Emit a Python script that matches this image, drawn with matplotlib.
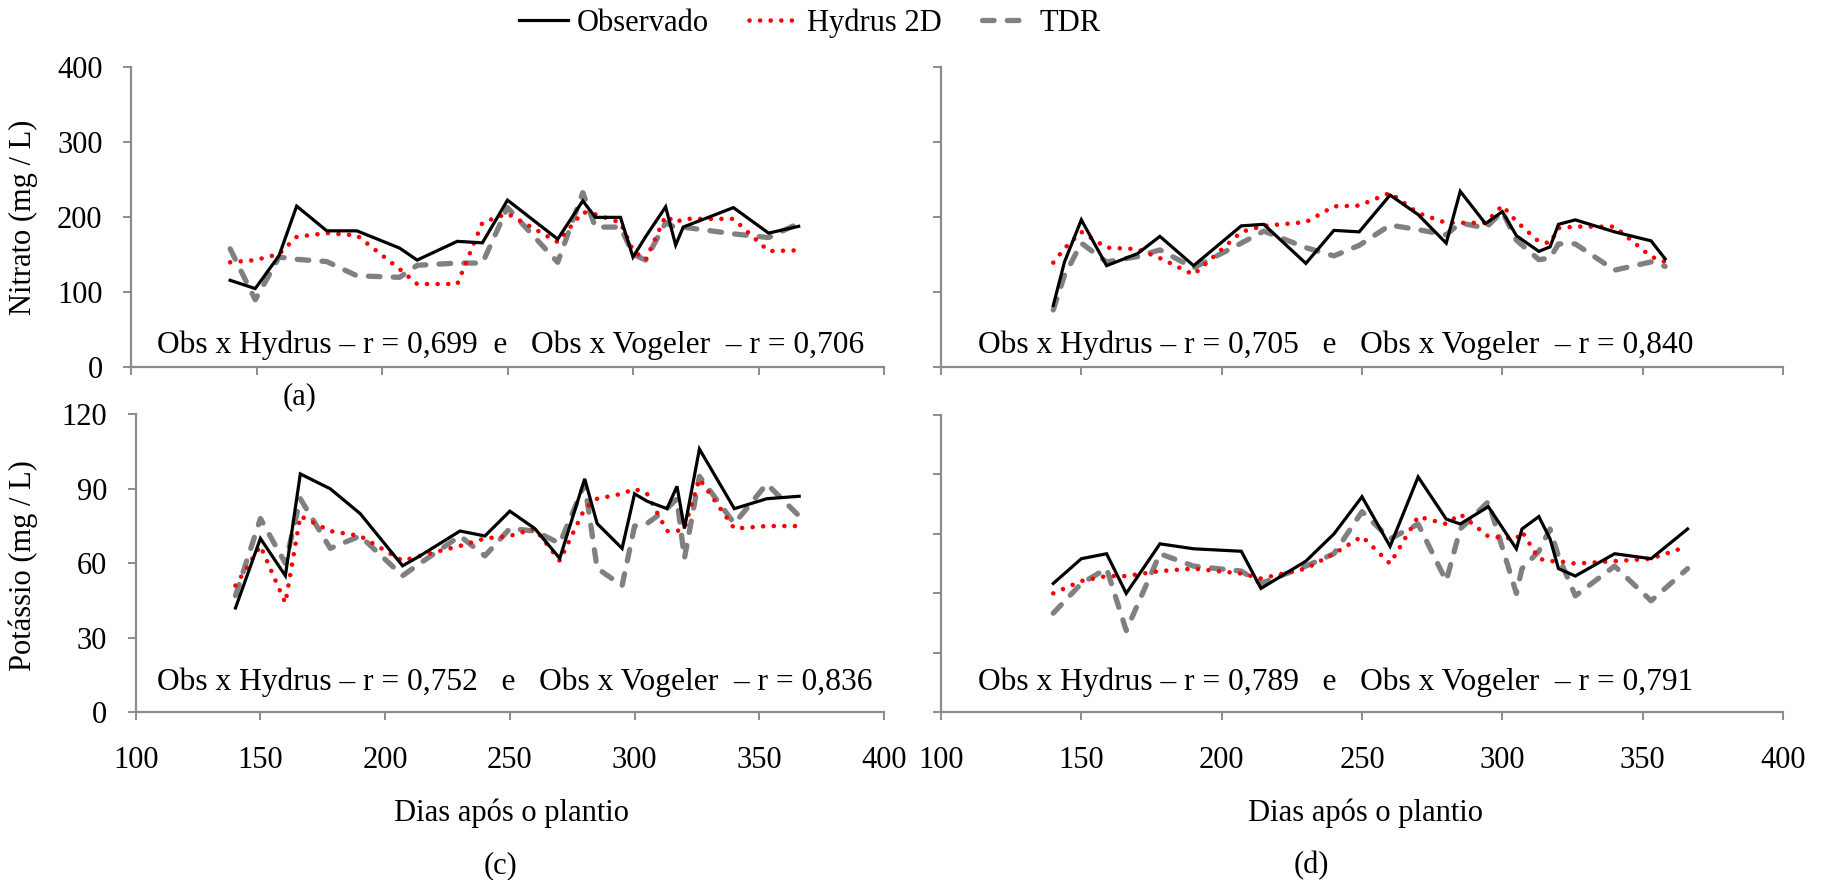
import matplotlib
matplotlib.use("Agg")
import matplotlib.pyplot as plt
from matplotlib.lines import Line2D

plt.rcParams['font.family'] = ['Liberation Serif', 'DejaVu Serif']

# ---------------- data ----------------
# Panel (a) - Nitrato, left
days_a = [139.5, 149.5, 159, 166, 178, 190, 207, 214, 230, 240, 250, 270, 280, 285,
          295, 300, 305, 313, 317, 320, 340, 354, 366]
obs_a = [115, 104, 148, 214, 181, 181, 158, 142, 167, 165, 222, 170, 221, 199,
         199, 146, 173, 213, 162, 186, 212, 178, 187]
hyd_a = [139, 142, 150, 173, 178, 175, 130, 110, 110, 192, 204, 166, 206, 203,
         192, 155, 142, 201, 192, 197, 197, 154, 155]
tdr_a = [157, 89, 146, 143, 140, 121, 119, 135, 138, 138, 212, 139, 232, 186,
         186, 150, 142, 192, 185, 186, 177, 172, 191]

# Panel (b) - Nitrato, right
days_b = [140, 144, 150, 159, 170, 178, 190, 207, 215, 230, 240, 249, 260, 270, 280,
          285, 294, 300, 305, 313, 317, 320, 326, 340, 353, 358]
obs_b = [82, 140, 196, 135, 151, 174, 135, 188, 190, 138, 182, 180, 229, 203, 165,
         234, 191, 207, 175, 154, 160, 190, 196, 180, 168, 144]
hyd_b = [139, 158, 180, 159, 157, 145, 123, 180, 188, 193, 214, 215, 232, 205, 192,
         192, 192, 215, 194, 167, 165, 185, 187, 187, 147, 140]
tdr_b = [76, 122, 165, 140, 147, 156, 132, 165, 181, 159, 148, 162, 189, 183, 176,
         192, 185, 207, 169, 143, 145, 164, 164, 129, 140, 134]

# Panel (c) - Potássio, left
days_c = [140, 150, 160, 166, 178, 190, 207, 214, 230, 240, 250, 260, 270, 280, 285,
          295, 300, 305, 313, 317, 320, 326, 340, 353, 366]
obs_c = [42, 70, 55, 96, 90, 80, 59, 63, 73, 71, 81, 74, 62, 94, 76,
         66, 88, 85, 82, 91, 74, 106, 82, 86, 87]
hyd_c = [51, 67, 44, 79, 73, 71, 61, 63, 67, 70, 71, 74, 61, 82, 86,
         88, 90, 88, 73, 73, 74, 94, 74, 75, 75]
tdr_c = [47, 78, 60, 86, 66, 71, 55, 60, 71, 63, 74, 73, 68, 92, 58,
         51, 75, 76, 82, 86, 62, 95, 76, 92, 79]

# Panel (d) - Potássio, right
days_d = [140, 150, 159, 166, 178, 190, 207, 214, 230, 240, 250, 260, 270, 280, 285,
          295, 305, 307, 313, 317, 320, 326, 340, 353, 366]
obs_d = [52, 62, 64, 48, 68, 66, 65, 50, 61, 72, 87, 67, 95, 78, 76,
         83, 66, 74, 79, 70, 58, 55, 64, 62, 74]
hyd_d = [48, 53, 55, 55, 57, 58, 56, 54, 58, 64, 71, 60, 79, 76, 80,
         71, 70, 73, 62, 61, 61, 60, 61, 62, 67]
tdr_d = [40, 52, 58, 33, 64, 59, 57, 52, 59, 64, 81, 70, 76, 53, 74,
         85, 48, 58, 65, 74, 63, 47, 59, 45, 58]

series_labels = ["Observado", "Hydrus 2D", "TDR"]
x_ticks = [100, 150, 200, 250, 300, 350, 400]
y_ticks_nit = [0, 100, 200, 300, 400]
y_ticks_pot = [0, 30, 60, 90, 120]
y_ticks_pot_d = [0, 24, 48, 72, 96, 120]

ann_a = "Obs x Hydrus \u2013 r = 0,699  e   Obs x Vogeler  \u2013 r = 0,706"
ann_b = "Obs x Hydrus \u2013 r = 0,705   e   Obs x Vogeler  \u2013 r = 0,840"
ann_c = "Obs x Hydrus \u2013 r = 0,752   e   Obs x Vogeler  \u2013 r = 0,836"
ann_d = "Obs x Hydrus \u2013 r = 0,789   e   Obs x Vogeler  \u2013 r = 0,791"

# ---------------- figure ----------------
W, H = 1822, 880
fig = plt.figure(figsize=(W / 100, H / 100), dpi=100)


def rect(l, r, t, b):
    return [l / W, 1 - b / H, (r - l) / W, (b - t) / H]


FS = 22
FS_ANN = 22.7
SPINE = '#8c8c8c'

style_obs = dict(color='black', lw=2.3, solid_joinstyle='miter')
style_hyd = dict(color='#ff0000', lw=3.3, linestyle=(0, (0.01, 2.3)),
                 dash_capstyle='round')
style_tdr = dict(color='#808080', lw=3.8, linestyle=(0, (2.2, 2.5)),
                 dash_capstyle='round')


def make_ax(r, days, obs, hyd, tdr, ylim, yticks, show_x, show_y):
    ax = fig.add_axes(r)
    ax.plot(days, tdr, **style_tdr)
    ax.plot(days, hyd, **style_hyd)
    ax.plot(days, obs, **style_obs)
    ax.set_xlim(100, 400)
    ax.set_ylim(*ylim)
    ax.set_xticks(x_ticks)
    ax.set_yticks(yticks)
    for s in ['top', 'right']:
        ax.spines[s].set_visible(False)
    for s in ['left', 'bottom']:
        ax.spines[s].set_color(SPINE)
        ax.spines[s].set_linewidth(1.6)
    ax.tick_params(axis='both', direction='out', length=6, width=1.4,
                   color=SPINE, labelsize=FS)
    ax.tick_params(axis='x', pad=18)
    ax.tick_params(axis='y', pad=14.5)
    if not show_x:
        ax.set_xticklabels([])
    if not show_y:
        ax.set_yticklabels([])
    return ax


ax_a = make_ax(rect(131, 884, 66.7, 366.5), days_a, obs_a, hyd_a, tdr_a,
               (0, 400), y_ticks_nit, False, True)
ax_b = make_ax(rect(941, 1783, 66.7, 367), days_b, obs_b, hyd_b, tdr_b,
               (0, 400), y_ticks_nit, False, False)
ax_c = make_ax(rect(135.7, 884, 414.3, 712.3), days_c, obs_c, hyd_c, tdr_c,
               (0, 120), y_ticks_pot, True, True)
ax_d = make_ax(rect(941, 1783, 415, 712.3), days_d, obs_d, hyd_d, tdr_d,
               (0, 120), y_ticks_pot_d, True, False)

# annotations
fig.text(157 / W, 1 - 352.7 / H, ann_a, fontsize=FS_ANN, va='baseline', ha='left')
fig.text(978 / W, 1 - 352.7 / H, ann_b, fontsize=FS_ANN, va='baseline', ha='left')
fig.text(157 / W, 1 - 690 / H, ann_c, fontsize=FS_ANN, va='baseline', ha='left')
fig.text(978 / W, 1 - 690 / H, ann_d, fontsize=FS_ANN, va='baseline', ha='left')

# panel labels
fig.text(300 / W, 1 - 397 / H, "(a)", fontsize=FS, ha='center', va='center')
fig.text(500 / W, 1 - 866 / H, "(c)", fontsize=FS, ha='center', va='center')
fig.text(1311 / W, 1 - 866 / H, "(d)", fontsize=FS, ha='center', va='center')

# x axis titles
fig.text(511 / W, 1 - 813 / H, "Dias após o plantio", fontsize=FS, ha='center', va='center')
fig.text(1365 / W, 1 - 813 / H, "Dias após o plantio", fontsize=FS, ha='center', va='center')

# y axis titles
fig.text(23 / W, 1 - 217 / H, "Nitrato (mg / L)", fontsize=FS, rotation=90,
         ha='center', va='center')
fig.text(23 / W, 1 - 566 / H, "Potássio (mg / L)", fontsize=FS, rotation=90,
         ha='center', va='center')

# legend
handles = [Line2D([], [], **style_obs), Line2D([], [], **style_hyd),
           Line2D([], [], **style_tdr)]
fig.legend(handles, series_labels, loc='center', bbox_to_anchor=(810 / W, 1 - 23 / H),
           ncol=3, frameon=False, fontsize=FS, handlelength=1.6,
           handletextpad=0.3, columnspacing=1.3)

fig.savefig("out.png", dpi=100)
